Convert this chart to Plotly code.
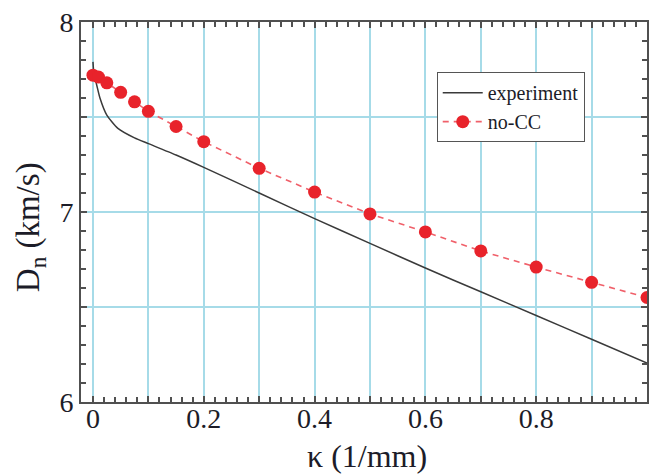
import plotly.graph_objects as go

# Experiment curve
exp_k = [0, 0.001, 0.003, 0.0066, 0.0126, 0.025, 0.045, 0.075, 0.1, 0.15, 0.2, 0.3, 0.4, 0.5, 0.6, 0.7, 0.8, 0.9, 1.0]
exp_d = [7.79, 7.75, 7.71, 7.67, 7.6, 7.51, 7.44, 7.39, 7.36, 7.30, 7.235, 7.10, 6.965, 6.835, 6.705, 6.58, 6.455, 6.33, 6.205]

# no-CC points
nocc_k = [0, 0.01, 0.025, 0.05, 0.075, 0.1, 0.15, 0.2, 0.3, 0.4, 0.5, 0.6, 0.7, 0.8, 0.9, 1.0]
nocc_d = [7.72, 7.71, 7.68, 7.63, 7.58, 7.53, 7.45, 7.37, 7.23, 7.105, 6.99, 6.895, 6.795, 6.71, 6.63, 6.55]

x_ticks = [0, 0.1, 0.2, 0.3, 0.4, 0.5, 0.6, 0.7, 0.8, 0.9, 1.0]
x_labels = ["0", "", "0.2", "", "0.4", "", "0.6", "", "0.8", "", "1"]
y_ticks = [6, 6.5, 7, 7.5, 8]
y_labels = ["6", "", "7", "", "8"]

FONT = "Liberation Serif"
GRID = "#a6dbe8"
AX = "#505050"
TXT = "#1c1c28"

fig = go.Figure()
fig.add_trace(go.Scatter(x=exp_k, y=exp_d, mode="lines", name="experiment",
                         line=dict(color="#3a3a3a", width=1.5, shape="spline", smoothing=0.6)))
fig.add_trace(go.Scatter(x=nocc_k, y=nocc_d, mode="lines+markers", name="no-CC",
                         line=dict(color="#f0606a", width=1.6, dash="6px,5px"),
                         marker=dict(color="#e8232b", size=13)))

fig.update_layout(
    width=649, height=474,
    margin=dict(l=81, r=0, t=22, b=72),
    paper_bgcolor="white", plot_bgcolor="white",
    font=dict(family=FONT, color=TXT),
    showlegend=True,
    legend=dict(x=0.6285, y=0.868, xanchor="left", yanchor="top",
                bgcolor="white", bordercolor="#555", borderwidth=1,
                font=dict(family=FONT, size=20, color=TXT),
                itemwidth=40, tracegroupgap=0),
    xaxis=dict(range=[-0.0216, 1.0], tickmode="array", tickvals=x_ticks, ticktext=x_labels,
               showgrid=True, gridcolor=GRID, gridwidth=1.5, zeroline=False,
               showline=True, linecolor=AX, linewidth=2, mirror="ticks",
               ticks="inside", ticklen=6, tickcolor=AX, tickwidth=1.5,
               ticklabelstandoff=-10,
               tickfont=dict(family=FONT, size=28, color=TXT),
               minor=dict(dtick=0.02, ticks="inside", ticklen=5, tickcolor=AX, tickwidth=1.5, showgrid=False)),
    yaxis=dict(range=[6, 8], tickmode="array", tickvals=y_ticks, ticktext=y_labels,
               showgrid=True, gridcolor=GRID, gridwidth=1.5, zeroline=False,
               showline=True, linecolor=AX, linewidth=2, mirror="ticks",
               ticks="inside", ticklen=6, tickcolor=AX, tickwidth=1.5,
               tickfont=dict(family=FONT, size=28, color=TXT),
               minor=dict(dtick=0.1, ticks="inside", ticklen=5, tickcolor=AX, tickwidth=1.5, showgrid=False)),
    annotations=[
        dict(text="κ (1/mm)", xref="paper", yref="paper", x=(368 - 81) / 568, y=-(456 - 402) / 380,
             xanchor="center", yanchor="middle", showarrow=False,
             font=dict(family=FONT, size=32, color=TXT)),
        dict(text="D<sub>n</sub> (km/s)", xref="paper", yref="paper", x=-(81 - 30) / 568, y=(402 - 227) / 380,
             xanchor="center", yanchor="middle", showarrow=False, textangle=-90,
             font=dict(family=FONT, size=33, color=TXT)),
    ],
)

fig.write_html("out.html")
